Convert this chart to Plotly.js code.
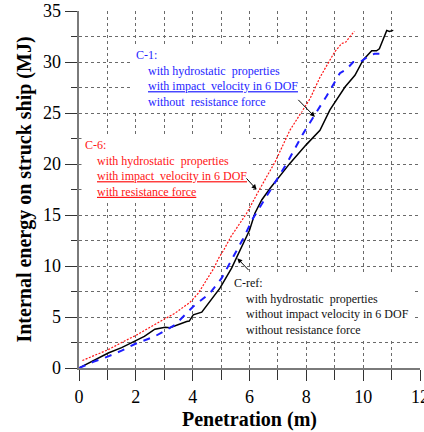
<!DOCTYPE html>
<html>
<head>
<meta charset="utf-8">
<script src="https://cdn.plot.ly/plotly-3.0.1.min.js"></script>
<style>html,body{margin:0;padding:0;background:#fff;}#chart{width:424px;height:432px;}</style>
</head>
<body>
<div id="chart"></div>
<script>
// C-ref (black, solid)
const refX = [0, 0.5, 1.03, 1.5, 1.97, 2.3, 2.67, 3.03, 3.2, 3.5, 3.79, 3.88, 4.02, 4.32, 4.61, 4.96, 5.37, 5.67, 6.0, 6.19, 6.43, 6.72, 7.0, 7.42, 8.0, 8.48, 8.83, 9.36, 9.71, 10.0, 10.3, 10.47, 10.57, 10.71, 10.83, 10.92, 11.06];
const refY = [0, 0.75, 1.47, 2.0, 2.6, 3.1, 3.8, 4.0, 3.95, 4.3, 4.56, 4.6, 5.21, 5.48, 6.52, 7.83, 9.8, 11.6, 13.5, 15.17, 16.47, 17.6, 18.6, 20.06, 21.9, 23.3, 25.3, 27.55, 28.7, 30.2, 31.1, 31.1, 31.3, 32.3, 33.1, 33.0, 33.1];
// C-1 (blue, dashed)
const c1X = [0, 0.5, 1.03, 1.5, 1.97, 2.67, 3.38, 4.02, 4.61, 5.02, 5.37, 5.78, 6.13, 6.72, 7.31, 7.89, 8.3, 8.72, 9.18, 9.42, 9.65, 9.9, 10.1, 10.24, 10.4, 10.57];
const c1Y = [0, 0.6, 1.14, 1.7, 2.35, 3.1, 4.24, 6.03, 7.34, 8.8, 10.6, 12.7, 14.7, 17.45, 20.06, 23.0, 24.8, 26.7, 28.9, 29.3, 30.0, 30.0, 30.4, 30.65, 30.8, 30.8];
// C-6 (red, dotted)
const c6X = [0.12, 0.5, 1.03, 1.5, 2.0, 2.5, 3.0, 3.38, 3.9, 4.2, 4.49, 4.75, 4.9, 5.1, 5.35, 5.9, 6.37, 6.9, 7.42, 8.13, 8.48, 8.89, 9.0, 9.24, 9.39, 9.51, 9.69];
const c6Y = [0.74, 1.2, 1.8, 2.5, 3.2, 4.0, 4.8, 5.38, 6.42, 7.34, 8.64, 9.8, 10.7, 11.6, 12.9, 15.17, 17.6, 20.2, 23.3, 26.4, 28.5, 30.5, 31.0, 31.8, 31.96, 32.4, 33.0];

const xTicks = [0, 2, 4, 6, 8, 10, 12];
const yTicks = [0, 5, 10, 15, 20, 25, 30, 35];

const FONT = "'Liberation Serif', 'Times New Roman', serif";
const BLUE = '#1e1eff';
const RED = '#ff1414';
const NB = '\u00a0\u00a0\u00a0\u00a0';

const traces = [
  {x: refX, y: refY, mode: 'lines', line: {color: '#000', width: 1.5}, hoverinfo: 'skip'},
  {x: c1X, y: c1Y, mode: 'lines', line: {color: BLUE, width: 2, dash: '7px,7px'}, hoverinfo: 'skip'},
  {x: c6X, y: c6Y, mode: 'lines', line: {color: RED, width: 1.2, dash: '2px,1.5px'}, hoverinfo: 'skip'}
];

const gridDef = {gridcolor: '#6a6a6a', griddash: 'dot', gridwidth: 1};

const layout = {
  width: 424, height: 432,
  margin: {l: 79, r: 4, t: 11, b: 64},
  paper_bgcolor: '#fff', plot_bgcolor: '#fff',
  showlegend: false,
  font: {family: FONT, color: '#000'},
  xaxis: Object.assign({
    range: [0, 12], tickvals: xTicks, ticktext: xTicks.map(String),
    ticks: 'outside', ticklen: 11, tickwidth: 1, tickcolor: '#333',
    showline: true, linecolor: '#7a7a7a', linewidth: 2,
    zeroline: false, showgrid: true, ticklabeloverflow: 'allow',
    tickfont: {family: FONT, size: 18, color: '#000'},
    minor: {dtick: 1, tick0: 0, ticks: 'outside', ticklen: 10, tickcolor: '#333', showgrid: true, gridcolor: '#6a6a6a', griddash: 'dot'},
    title: {text: '<b>Penetration (m)</b>', font: {family: FONT, size: 20, color: '#000'}, standoff: 6},
    fixedrange: true
  }, gridDef),
  yaxis: Object.assign({
    range: [0, 35], tickvals: yTicks, ticktext: yTicks.map(String),
    ticks: 'outside', ticklen: 12, tickwidth: 1, tickcolor: '#333',
    showline: true, linecolor: '#7a7a7a', linewidth: 2.5,
    zeroline: false, showgrid: true,
    tickfont: {family: FONT, size: 18, color: '#000'},
    minor: {dtick: 2.5, tick0: 0, ticks: 'outside', ticklen: 6, tickcolor: '#333', showgrid: true, gridcolor: '#6a6a6a', griddash: 'dot'},
    title: {text: '<b>Internal energy on struck ship (MJ)</b>', font: {family: FONT, size: 20, color: '#000'}, standoff: 6},
    fixedrange: true
  }, gridDef),
  annotations: [
    {x: 1.854, y: 31.73, xref: 'x', yref: 'y', xanchor: 'left', yanchor: 'top', align: 'left', showarrow: false,
     bgcolor: '#fff', borderpad: 3, font: {family: FONT, size: 12, color: BLUE},
     text: 'C-1:<br>' + NB + 'with hydrostatic  properties<br>' + NB + '<u>with impact  velocity in 6 DOF</u><br>' + NB + 'without  resistance force'},
    {x: 0.07, y: 22.92, xref: 'x', yref: 'y', xanchor: 'left', yanchor: 'top', align: 'left', showarrow: false,
     bgcolor: '#fff', borderpad: 3, font: {family: FONT, size: 12, color: RED},
     text: 'C-6:<br>' + NB + 'with hydrostatic  properties<br>' + NB + '<u>with impact  velocity in 6 DOF</u><br>' + NB + '<u>with resistance force</u>'},
    {x: 5.302, y: 9.37, xref: 'x', yref: 'y', xanchor: 'left', yanchor: 'top', align: 'left', showarrow: false,
     bgcolor: '#fff', borderpad: 3, font: {family: FONT, size: 12, color: '#111'},
     text: 'C-ref:<br>' + NB + 'with hydrostatic  properties<br>' + NB + 'without impact velocity in 6 DOF<br>' + NB + 'without resistance force'},
    {x: 8.30, y: 24.62, xref: 'x', yref: 'y', ax: -18, ay: -18.5, text: '', showarrow: true, arrowhead: 2, arrowsize: 1, arrowwidth: 1, arrowcolor: '#000'},
    {x: 6.25, y: 17.5, xref: 'x', yref: 'y', ax: -11.5, ay: -12.6, text: '', showarrow: true, arrowhead: 2, arrowsize: 1, arrowwidth: 1, arrowcolor: '#000'},
    {x: 5.57, y: 10.76, xref: 'x', yref: 'y', ax: 12.7, ay: 13.3, text: '', showarrow: true, arrowhead: 2, arrowsize: 1, arrowwidth: 1, arrowcolor: '#000'}
  ]
};

Plotly.newPlot('chart', traces, layout, {staticPlot: true, displayModeBar: false});
</script>
</body>
</html>
